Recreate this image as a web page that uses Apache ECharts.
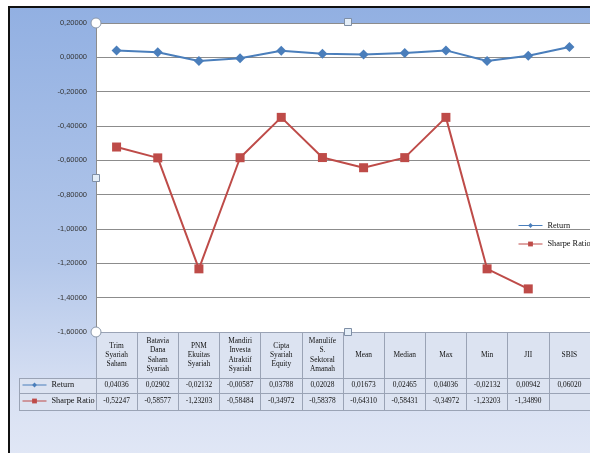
<!DOCTYPE html>
<html><head><meta charset="utf-8">
<script src="https://cdn.jsdelivr.net/npm/echarts@6/dist/echarts.min.js"></script>
<style>
html,body{margin:0;padding:0;background:#fff;overflow:hidden;}
#frame{position:absolute;left:8px;top:6px;width:600px;height:460px;border-left:2px solid #111;border-top:2px solid #111;
background:linear-gradient(to bottom,#92B0E2 0%,#B3C7EA 55%,#D9E1F3 85%,#E2E8F6 100%);}
#chart{position:absolute;left:0;top:0;width:590px;height:453px;}
</style></head><body>
<div id="frame"></div><div id="chart"></div>
<script>
const categories = ['Trim\nSyariah\nSaham','Batavia\nDana\nSaham\nSyariah','PNM\nEkuitas\nSyariah','Mandiri\nInvesta\nAtraktif\nSyariah','Cipta\nSyariah\nEquity','Manulife\nS.\nSektoral\nAmanah','Mean','Median','Max','Min','JII','SBIS'];
const returnValues = [0.04036,0.02902,-0.02132,-0.00587,0.03788,0.02028,0.01673,0.02465,0.04036,-0.02132,0.00942,0.06020];
const sharpeValues = [-0.52247,-0.58577,-1.23203,-0.58484,-0.34972,-0.58378,-0.64310,-0.58431,-0.34972,-1.23203,-1.34890,null];
const seriesNames = ['Return','Sharpe Ratio'];
const yMin = -1.6, yMax = 0.2, yStep = 0.2;

// layout (pixels)
const GL = 96, GT = 23, GB = 332, COLW = 42;
const ROW1 = 378, ROW2 = 393, ROW3 = 410, LEFTCOL = 19;
const lineCol = '#9AA3B5';
const serif = 'Liberation Serif';

function fmt(v){ if (v == null) return ''; if (Math.abs(v) < 1e-9) v = 0; return v.toFixed(5).replace('.', ','); }

const chart = echarts.init(document.getElementById('chart'), null, {renderer:'canvas'});
const gridRight = 590 - (GL + COLW * categories.length);

const tableLabel = {interval:0, verticalAlign:'middle', fontFamily:serif, fontSize:7.4, color:'#111'};
const legendBase = {data:seriesNames, orient:'vertical', itemWidth:24, itemHeight:6, selectedMode:false, padding:0,
  lineStyle:{width:1}, textStyle:{fontFamily:serif, fontSize:8.3, color:'#111'}};
const option = {
  backgroundColor:'transparent',
  animation:false,
  grid:{left:GL, top:GT, right:gridRight, bottom:453-GB, show:true, backgroundColor:'#fff', borderWidth:0},
  legend:[
    Object.assign({}, legendBase, {left:518, top:221.5, itemGap:10.5}),
    Object.assign({}, legendBase, {left:22, top:381, itemGap:8})
  ],
  xAxis:[
    {type:'category', data:categories, position:'bottom', boundaryGap:true,
     axisLine:{show:true, onZero:false, lineStyle:{color:lineCol, width:1}},
     axisTick:{show:true, interval:0, length:ROW3-GB, lineStyle:{color:lineCol}},
     axisLabel:Object.assign({}, tableLabel, {margin:(ROW1-GB)/2, lineHeight:9.2}),
     splitLine:{show:false}},
    {type:'category', data:categories, position:'bottom', offset:ROW1-GB,
     axisLine:{show:true, onZero:false, lineStyle:{color:lineCol}}, axisTick:{show:false},
     axisLabel:Object.assign({}, tableLabel, {margin:(ROW2-ROW1)/2, formatter:(v,i)=>fmt(returnValues[i])})},
    {type:'category', data:categories, position:'bottom', offset:ROW2-GB,
     axisLine:{show:true, onZero:false, lineStyle:{color:lineCol}}, axisTick:{show:false},
     axisLabel:Object.assign({}, tableLabel, {margin:(ROW3-ROW2)/2, formatter:(v,i)=>fmt(sharpeValues[i])})},
    {type:'category', data:categories, position:'bottom', offset:ROW3-GB,
     axisLine:{show:true, onZero:false, lineStyle:{color:lineCol}}, axisTick:{show:false}, axisLabel:{show:false}}
  ],
  yAxis:{type:'value', min:yMin, max:yMax, interval:yStep,
    axisLine:{show:true, lineStyle:{color:'#8C8C8C'}}, axisTick:{show:false},
    splitLine:{show:true, lineStyle:{color:'#8C8C8C', width:1}},
    axisLabel:{margin:9, fontFamily:'Liberation Sans', fontSize:7.5, color:'#333', formatter:v=>fmt(v)}},
  series:[
    {name:seriesNames[0], type:'line', data:returnValues, xAxisIndex:0,
     symbol:'diamond', symbolSize:10, color:'#4A7EBB',
     lineStyle:{width:2, color:'#4A7EBB'}, itemStyle:{color:'#4A7EBB'}, z:3},
    {name:seriesNames[1], type:'line', data:sharpeValues, xAxisIndex:0,
     symbol:'rect', symbolSize:9, color:'#BE4B48',
     lineStyle:{width:2, color:'#BE4B48'}, itemStyle:{color:'#BE4B48'}, z:3}
  ],
  graphic:{elements:[
    {type:'rect', z:-1, silent:true, shape:{x:GL, y:GB, width:600-GL, height:ROW3-GB}, style:{fill:'#DCE3F1'}},
    {type:'rect', z:-1, silent:true, shape:{x:LEFTCOL, y:ROW1, width:GL-LEFTCOL, height:ROW3-ROW1}, style:{fill:'#DCE3F1'}},
    {type:'line', z:5, silent:true, shape:{x1:LEFTCOL+0.5, y1:ROW1, x2:LEFTCOL+0.5, y2:ROW3}, style:{stroke:lineCol, lineWidth:1}},
    {type:'line', z:5, silent:true, shape:{x1:LEFTCOL, y1:ROW1+0.5, x2:GL, y2:ROW1+0.5}, style:{stroke:lineCol, lineWidth:1}},
    {type:'line', z:5, silent:true, shape:{x1:LEFTCOL, y1:ROW2+0.5, x2:GL, y2:ROW2+0.5}, style:{stroke:lineCol, lineWidth:1}},
    {type:'line', z:5, silent:true, shape:{x1:LEFTCOL, y1:ROW3+0.5, x2:GL, y2:ROW3+0.5}, style:{stroke:lineCol, lineWidth:1}},
    {type:'circle', z:10, silent:true, shape:{cx:GL, cy:GT, r:5}, style:{fill:'#fff', stroke:'#8A97AA', lineWidth:1}},
    {type:'circle', z:10, silent:true, shape:{cx:GL, cy:GB, r:5}, style:{fill:'#fff', stroke:'#8A97AA', lineWidth:1}},
    {type:'rect', z:10, silent:true, shape:{x:344.5, y:18.5, width:7, height:7}, style:{fill:'#E4EEF8', stroke:'#7F8FA6', lineWidth:1}},
    {type:'rect', z:10, silent:true, shape:{x:92.5, y:174.5, width:7, height:7}, style:{fill:'#E4EEF8', stroke:'#7F8FA6', lineWidth:1}},
    {type:'rect', z:10, silent:true, shape:{x:344.5, y:328.5, width:7, height:7}, style:{fill:'#E4EEF8', stroke:'#7F8FA6', lineWidth:1}}
  ]}
};
chart.setOption(option);
</script>
</body></html>
